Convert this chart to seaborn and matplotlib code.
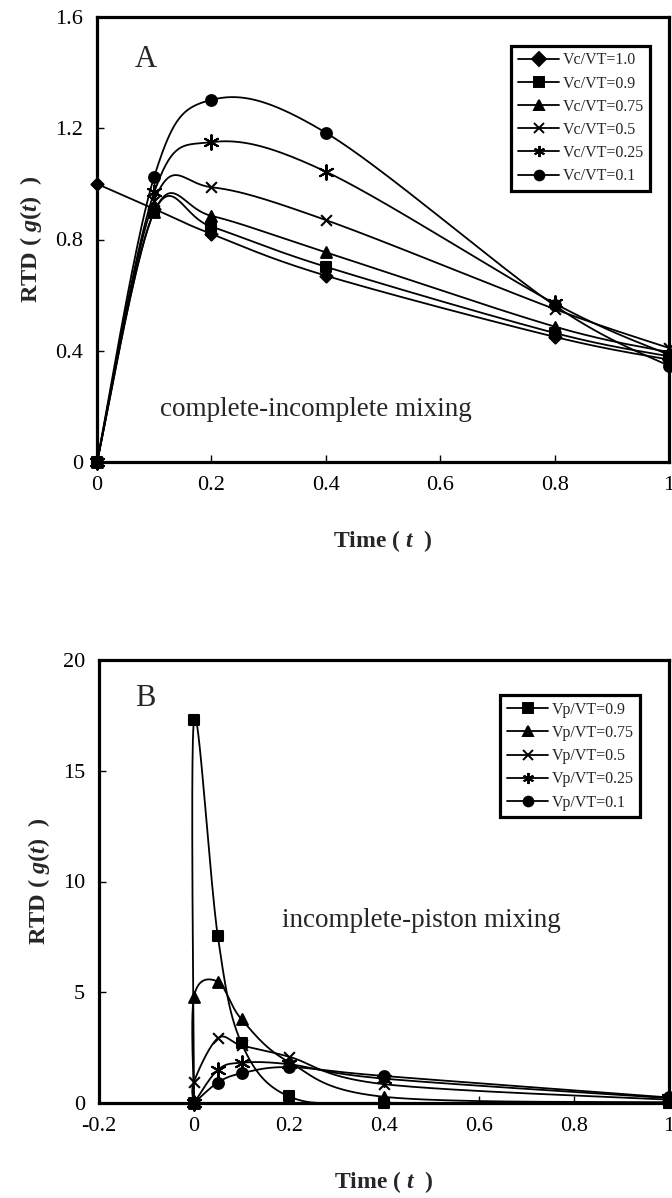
import numpy as np
import pandas as pd
import matplotlib
matplotlib.use("Agg")
import matplotlib.pyplot as plt
from matplotlib.lines import Line2D
import seaborn as sns

# ---- Panel A: complete-incomplete mixing ----
time_a = [0, 0.1, 0.2, 0.4, 0.8, 1.0]
labels_a = ["Vc/VT=1.0", "Vc/VT=0.9", "Vc/VT=0.75", "Vc/VT=0.5", "Vc/VT=0.25", "Vc/VT=0.1"]
vc_100 = [1.00, 0.91, 0.82, 0.67, 0.45, 0.368]
vc_090 = [0.00, 0.90, 0.846, 0.702, 0.464, 0.38]
vc_075 = [0.00, 0.90, 0.885, 0.754, 0.487, 0.395]
vc_050 = [0.00, 0.94, 0.988, 0.870, 0.550, 0.41]
vc_025 = [0.00, 0.97, 1.150, 1.044, 0.570, 0.385]
vc_010 = [0.00, 1.026, 1.302, 1.184, 0.563, 0.345]

# ---- Panel B: incomplete-piston mixing ----
time_b_sharp = [0, 0, 0.05, 0.1, 0.2, 0.4, 1.0]
time_b_soft = [0, 0.05, 0.1, 0.2, 0.4, 1.0]
labels_b = ["Vp/VT=0.9", "Vp/VT=0.75", "Vp/VT=0.5", "Vp/VT=0.25", "Vp/VT=0.1"]
vp_090 = [0.0, 17.3, 7.55, 2.70, 0.30, 0.0, 0.0]
vp_075 = [0.0, 4.80, 5.48, 3.78, 1.85, 0.28, 0.03]
vp_050 = [0.0, 0.96, 2.92, 2.60, 2.09, 0.85, 0.15]
vp_025 = [0.0, 1.49, 1.82, 1.75, 1.10, 0.22]
vp_010 = [0.0, 0.92, 1.34, 1.62, 1.22, 0.25]

markers = ["D", "s", "^", "x", (6, 2, 0), "o"]
marker_sizes = [38, 50, 60, 60, 110, 60]


def smooth(xs, ys, n=40):
    """Bezier smoothing through the points (Catmull-Rom style control points)."""
    pts = np.column_stack([xs, ys]).astype(float)
    ext = np.vstack([pts[0], pts, pts[-1]])
    s = np.linspace(0, 1, n, endpoint=False)[:, None]
    out = []
    for i in range(1, len(ext) - 2):
        p0, p1, p2, p3 = ext[i - 1], ext[i], ext[i + 1], ext[i + 2]
        c1 = p1 + (p2 - p0) / 6.0
        c2 = p2 - (p3 - p1) / 6.0
        seg = ((1 - s) ** 3) * p1 + 3 * ((1 - s) ** 2) * s * c1 \
            + 3 * (1 - s) * s ** 2 * c2 + s ** 3 * p2
        out.append(seg)
    out.append(pts[-1:])
    return np.vstack(out)


def curve_frame(series):
    frames = []
    for name, xs, ys in series:
        c = smooth(xs, ys)
        frames.append(pd.DataFrame({"series": name, "t": c[:, 0], "g": c[:, 1]}))
    return pd.concat(frames, ignore_index=True)


sns.set_style("ticks")
plt.rcParams["font.family"] = ["Liberation Serif", "DejaVu Serif"]
plt.rcParams["mathtext.fontset"] = "custom"
plt.rcParams["mathtext.it"] = "Liberation Serif:italic:bold"
plt.rcParams["mathtext.rm"] = "Liberation Serif:bold"
plt.rcParams["mathtext.bf"] = "Liberation Serif:bold"
plt.rcParams["axes.unicode_minus"] = False

fig = plt.figure(figsize=(6.72, 11.98), dpi=100)
ax_a = fig.add_axes([97 / 672, 1 - 462 / 1198, 572 / 672, 445 / 1198])
ax_b = fig.add_axes([99 / 672, 1 - 1103 / 1198, 570 / 672, 443 / 1198])


def draw_panel(ax, series, mks, sizes):
    lines = curve_frame(series)
    sns.lineplot(data=lines, x="t", y="g", units="series", estimator=None,
                 sort=False, color="black", linewidth=1.3, ax=ax, zorder=2)
    for (name, xs, ys), m, sz in zip(series, mks, sizes):
        sns.scatterplot(x=xs, y=ys, marker=m, s=sz, color="black",
                        edgecolor="black", linewidth=1.5, ax=ax,
                        clip_on=False, zorder=3, legend=False)


def style_axes(ax, xlim, ylim, xticks, yticks):
    ax.set_xlim(*xlim)
    ax.set_ylim(*ylim)
    ax.set_xticks(xticks)
    ax.set_yticks(yticks)
    ax.set_xticklabels([f"{v:g}" for v in xticks])
    ax.set_yticklabels([f"{v:g}" for v in yticks])
    for sp in ax.spines.values():
        sp.set_visible(True)
        sp.set_linewidth(2.3)
        sp.set_color("black")
    ax.tick_params(direction="in", length=5, width=1, labelsize=16, pad=10,
                   colors="black")
    ax.set_xlabel("Time ( $t$  )", fontsize=17, fontweight="bold", labelpad=24)
    ax.set_ylabel("RTD ( $g$($t$)  )", fontsize=17.5, fontweight="bold", labelpad=8)


def add_legend(ax, labels, mks, anchor):
    handles = [Line2D([], [], color="black", marker=m, markersize=8 if m == (6, 2, 0) else 7,
                      linewidth=1.3, markeredgewidth=1.4)
               for m in mks]
    leg = ax.legend(handles, labels, loc="upper right", bbox_to_anchor=anchor,
                    fontsize=11.5, frameon=True, fancybox=False, framealpha=1,
                    edgecolor="black", handlelength=2.6, handletextpad=0.2,
                    labelspacing=0.45, borderpad=0.4, borderaxespad=0)
    leg.get_frame().set_linewidth(2.3)


# Panel A
series_a = [(lab, time_a, vals) for lab, vals in
            zip(labels_a, [vc_100, vc_090, vc_075, vc_050, vc_025, vc_010])]
draw_panel(ax_a, series_a, markers, marker_sizes)
style_axes(ax_a, (0, 1.0), (0, 1.6), [0, 0.2, 0.4, 0.6, 0.8, 1.0],
           [0, 0.4, 0.8, 1.2, 1.6])
add_legend(ax_a, labels_a, markers, (0.967, 0.935))
ax_a.text(0.066, 0.905, "A", transform=ax_a.transAxes, fontsize=22,
          ha="left", va="center")
ax_a.text(0.383, 0.118, "complete-incomplete mixing", transform=ax_a.transAxes,
          fontsize=19.5, ha="center", va="center")

# Panel B
series_b = [
    (labels_b[0], time_b_sharp, vp_090),
    (labels_b[1], time_b_sharp, vp_075),
    (labels_b[2], time_b_sharp, vp_050),
    (labels_b[3], time_b_soft, vp_025),
    (labels_b[4], time_b_soft, vp_010),
]
draw_panel(ax_b, series_b, markers[1:], marker_sizes[1:])
style_axes(ax_b, (-0.2, 1.0), (0, 20), [-0.2, 0, 0.2, 0.4, 0.6, 0.8, 1.0],
           [0, 5, 10, 15, 20])
add_legend(ax_b, labels_b, markers[1:], (0.949, 0.92))
ax_b.text(0.063, 0.914, "B", transform=ax_b.transAxes, fontsize=22,
          ha="left", va="center")
ax_b.text(0.565, 0.413, "incomplete-piston mixing", transform=ax_b.transAxes,
          fontsize=19.5, ha="center", va="center")

fig.savefig("out.png", dpi=100, facecolor="white")
